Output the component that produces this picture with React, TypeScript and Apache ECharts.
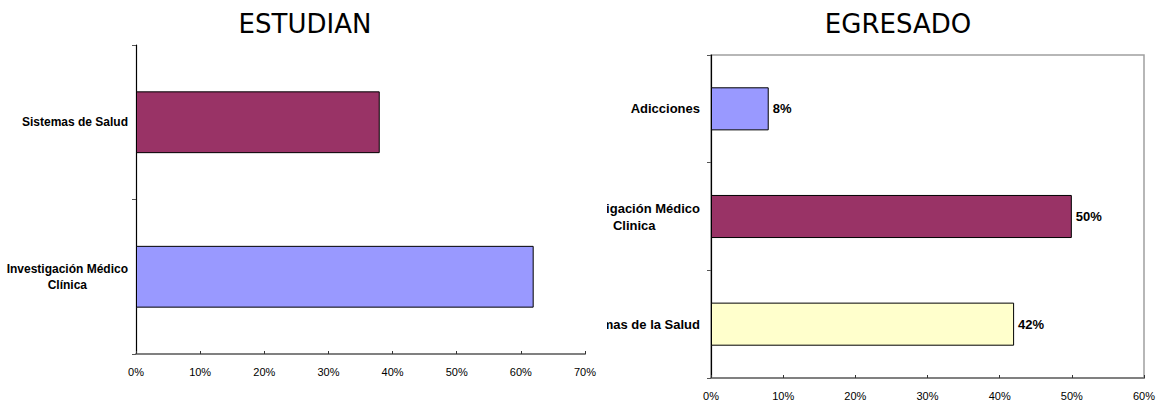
import React, { useEffect, useRef } from "react";
import * as echarts from "echarts";

const leftTitle = "ESTUDIAN";
const leftCategories = ["Investigación Médico\nClínica", "Sistemas de Salud"];
const leftValues = [62, 38];
const leftColors = ["#9999FF", "#993366"];
const leftMax = 70;

const rightTitle = "EGRESADO";
const rightCategories = ["Sistemas de la Salud", "Investigación Médico\nClinica", "Adicciones"];
const rightValues = [42, 50, 8];
const rightColors = ["#FFFFCC", "#993366", "#9999FF"];
const rightMax = 60;

const FONT = "'Liberation Sans', Arial, sans-serif";
const TITLE_FONT = "'DejaVu Sans', Verdana, sans-serif";

function richFormatter(v: string) {
  return v
    .split("\n")
    .map((s) => `{c|${s}}`)
    .join("\n");
}

function buildOption(opts: {
  title: string;
  titleLeft: number;
  titleTop: number;
  categories: string[];
  values: number[];
  colors: string[];
  max: number;
  grid: any;
  catFont: number;
  catLine: number;
  catMargin: number;
  showValues: boolean;
  border: boolean;
}) {
  return {
    animation: false,
    title: {
      text: opts.title,
      left: opts.titleLeft,
      textAlign: "center",
      top: opts.titleTop,
      textStyle: {
        fontFamily: TITLE_FONT,
        fontSize: 26,
        fontWeight: "normal",
        color: "#000",
      },
    },
    grid: {
      ...opts.grid,
      containLabel: false,
      outerBoundsMode: "none",
      show: opts.border,
      borderColor: "#a0a0a0",
      borderWidth: opts.border ? 1.5 : 0,
      backgroundColor: "transparent",
    },
    xAxis: {
      type: "value",
      min: 0,
      max: opts.max,
      interval: 10,
      splitLine: { show: false },
      axisLine: { show: true, lineStyle: { color: "#808080", width: 2 } },
      axisTick: { show: true, inside: true, length: 3, lineStyle: { color: "#333", width: 1 } },
      axisLabel: {
        formatter: "{value}%",
        fontFamily: FONT,
        fontSize: 11,
        color: "#000",
        margin: 12,
      },
    },
    yAxis: {
      type: "category",
      data: opts.categories,
      axisLine: { show: true, lineStyle: { color: "#000", width: 1.2 } },
      axisTick: { show: true, length: 4, lineStyle: { color: "#555", width: 1 } },
      axisLabel: {
        margin: opts.catMargin,
        align: "right",
        formatter: richFormatter,
        rich: {
          c: {
            align: "center",
            fontFamily: FONT,
            fontWeight: "bold",
            fontSize: opts.catFont,
            lineHeight: opts.catLine,
            color: "#000",
          },
        },
      },
    },
    series: [
      {
        type: "bar",
        barWidth: "40%",
        data: opts.values.map((v, i) => ({
          value: v,
          itemStyle: { color: opts.colors[i], borderColor: "#000", borderWidth: 1 },
        })),
        label: {
          show: opts.showValues,
          position: "right",
          distance: 4,
          formatter: "{c}%",
          fontFamily: FONT,
          fontWeight: "bold",
          fontSize: 13,
          color: "#000",
        },
      },
    ],
  };
}

export default function App() {
  const leftRef = useRef<HTMLDivElement>(null);
  const rightRef = useRef<HTMLDivElement>(null);

  useEffect(() => {
    const l = echarts.init(leftRef.current!, null, { renderer: "svg" });
    const r = echarts.init(rightRef.current!, null, { renderer: "svg" });
    l.setOption(
      buildOption({
        title: leftTitle,
        titleLeft: 300,
        titleTop: 6,
        categories: leftCategories,
        values: leftValues,
        colors: leftColors,
        max: leftMax,
        grid: { left: 136, right: 22, top: 45, bottom: 48 },
        catFont: 12,
        catLine: 16,
        catMargin: 8,
        showValues: false,
        border: false,
      }) as any
    );
    r.setOption(
      buildOption({
        title: rightTitle,
        titleLeft: 286,
        titleTop: 6,
        categories: rightCategories,
        values: rightValues,
        colors: rightColors,
        max: rightMax,
        grid: { left: 104, right: 12, top: 55, bottom: 24 },
        catFont: 13,
        catLine: 17,
        catMargin: 11,
        showValues: true,
        border: true,
      }) as any
    );
    return () => {
      l.dispose();
      r.dispose();
    };
  }, []);

  return (
    <div>
      <div
        ref={leftRef}
        style={{ position: "absolute", left: 0, top: 0, width: 607, height: 402, overflow: "hidden" }}
      />
      <div
        ref={rightRef}
        style={{ position: "absolute", left: 607, top: 0, width: 549, height: 402, overflow: "hidden" }}
      />
    </div>
  );
}
